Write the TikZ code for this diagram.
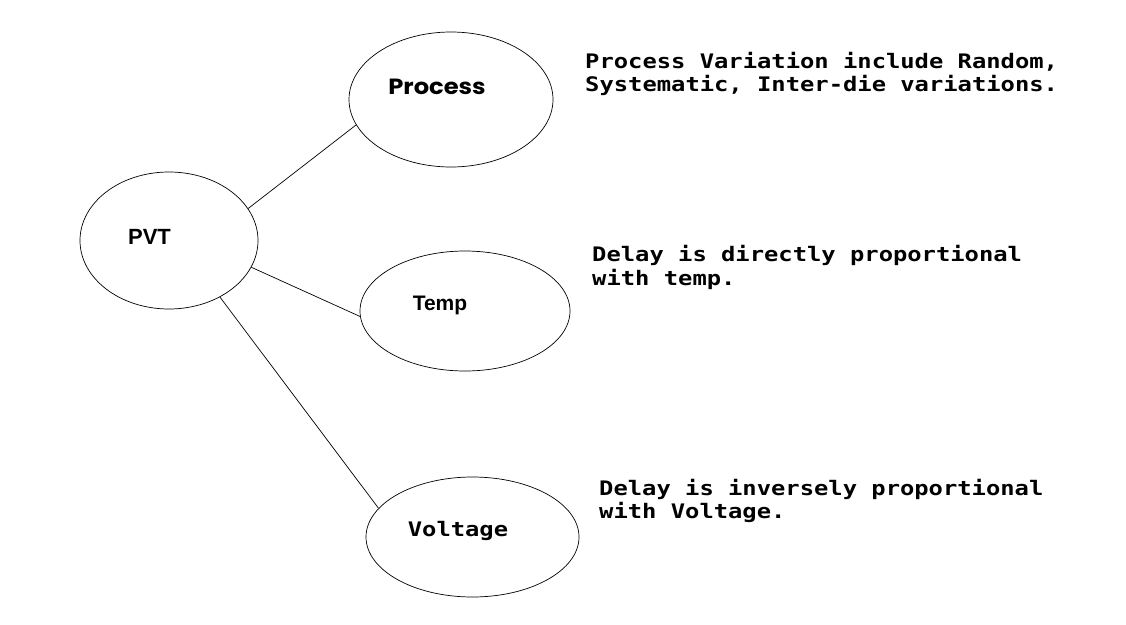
\documentclass[tikz,border=0pt]{standalone}
\usepackage{fontspec}
\usetikzlibrary{shapes.geometric}
\newfontfamily\monofont{DejaVu Sans Mono}[FakeStretch=1.19]
\newfontfamily\popfont{Poppins}[FakeStretch=1.1]
\newfontfamily\arialfont{Liberation Sans}
\begin{document}
\begin{tikzpicture}[x=1pt, y=-1pt,
    bubble/.style={ellipse, draw, line width=0.7pt, inner sep=0pt},
    note/.style={anchor=base west, inner sep=0pt, align=left, font=\monofont\bfseries\fontsize{20}{23.5}\selectfont}]
    \useasboundingbox (0,0) rectangle (1126,624);
    % the four bubbles
    \node[bubble, minimum width=178, minimum height=137](pvt) at (169,240.5){};
    \node[bubble, minimum width=204, minimum height=135](process) at (451,99.5){};
    \node[bubble, minimum width=210, minimum height=120](temp) at (465,311){};
    \node[bubble, minimum width=213, minimum height=120](voltage) at (472.5,537){};
    % their labels
    \node[anchor=base, inner sep=0pt, font=\arialfont\bfseries\fontsize{22}{26}\selectfont](pvtlbl) at (149.5,244.3){PVT};
    \node[anchor=base, inner sep=0pt, font=\popfont\bfseries\fontsize{22}{26}\selectfont](proclbl) at (437,94.3){Process};
    \node[anchor=base, inner sep=0pt, font=\arialfont\bfseries\fontsize{21}{25}\selectfont](templbl) at (440,310){Temp};
    \node[anchor=base, inner sep=0pt, font=\monofont\bfseries\fontsize{20}{24}\selectfont](voltlbl) at (458,536.7){Voltage};
    % links
    \draw[line width=0.7pt](pvt.22.4)--(process.195.3);
    \draw[line width=0.7pt](pvt.-18.3)--(temp.183.3);
    \draw[line width=0.7pt](pvt.-48.6)--(voltage.163.8);
    % notes (base = last line)
    \node[note](procnote) at (585,91.7){Process Variation include Random,\\Systematic, Inter-die variations.};
    \node[note](tempnote) at (592,285.3){Delay is directly proportional\\with temp.};
    \node[note](voltnote) at (599,518.7){Delay is inversely proportional\\with Voltage.};
\end{tikzpicture}
\end{document}
